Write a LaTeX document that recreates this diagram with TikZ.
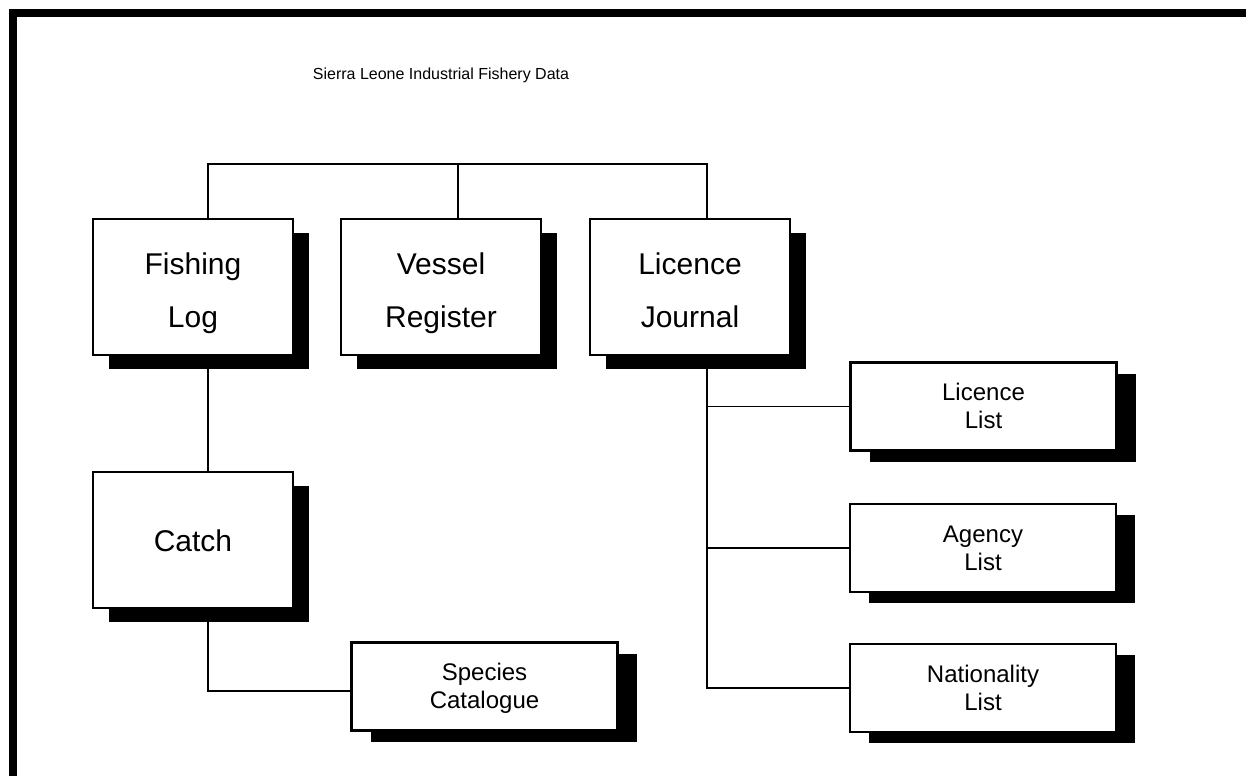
\documentclass[tikz,border=0pt]{standalone}
\usepackage{fontspec}
\setmainfont{Liberation Sans}
\usetikzlibrary{shadows}
\begin{document}
\begin{tikzpicture}[x=1pt,y=-1pt,
  bigbox/.style={draw, line width=2.5pt, fill=white, minimum width=200pt, minimum height=136pt,
    inner sep=0pt, align=center, font=\fontsize{30}{53}\selectfont,
    drop shadow={shadow xshift=16pt, shadow yshift=-14pt, fill=black, opacity=1}},
  smallbox/.style={draw, line width=2.5pt, fill=white, minimum width=266pt, minimum height=88pt,
    inner sep=0pt, align=center, font=\fontsize{24}{28}\selectfont, text height=50pt, text depth=6pt,
    drop shadow={shadow xshift=19pt, shadow yshift=-11pt, fill=black, opacity=1}},
  twoline/.style={text height=86pt, text depth=6pt},
  oneline/.style={text height=22pt, text depth=0pt},
  conn/.style={line width=1.4pt},
  frameline/.style={line width=8pt, line join=miter}]
\useasboundingbox (0,0) rectangle (1246,776);
\draw[frameline] (13,776) -- (13,13) -- (1246,13);

\node[font=\fontsize{16}{19}\selectfont] (title) at (441,75) {Sierra Leone Industrial Fishery Data};

\node[bigbox, twoline] (fish) at (193,287) {Fishing\\Log};
\node[bigbox, twoline] (vessel) at (441,287) {Vessel\\Register};
\node[bigbox, twoline] (journal) at (690,287) {Licence\\Journal};
\node[bigbox, oneline] (catch) at (193,540) {Catch};
\node[smallbox] (species) at (484.5,686.5) {Species\\Catalogue};
\node[smallbox] (lic) at (983.5,406.5) {Licence\\List};
\node[smallbox] (agency) at (983,548) {Agency\\List};
\node[smallbox] (nat) at (983,688) {Nationality\\List};

\coordinate (busL) at (208,164);
\coordinate (busM) at (458,164);
\coordinate (busR) at (707,164);
\coordinate (jdown) at ([xshift=17pt]journal.south);

\draw[conn] ([xshift=15pt]fish.north) -- (busL) -- (busR) -- ([xshift=17pt]journal.north);
\draw[conn] (busM) -- ([xshift=17pt]vessel.north);
\draw[conn] ([xshift=15pt]fish.south) -- ([xshift=15pt]catch.north);
\draw[conn] ([xshift=15pt]catch.south) |- ([yshift=-4.5pt]species.west);
\draw[conn] (jdown) |- (nat.west);
\draw[conn] (lic.west) -- (lic.west -| jdown);
\draw[conn] (agency.west) -- (agency.west -| jdown);
\end{tikzpicture}
\end{document}
